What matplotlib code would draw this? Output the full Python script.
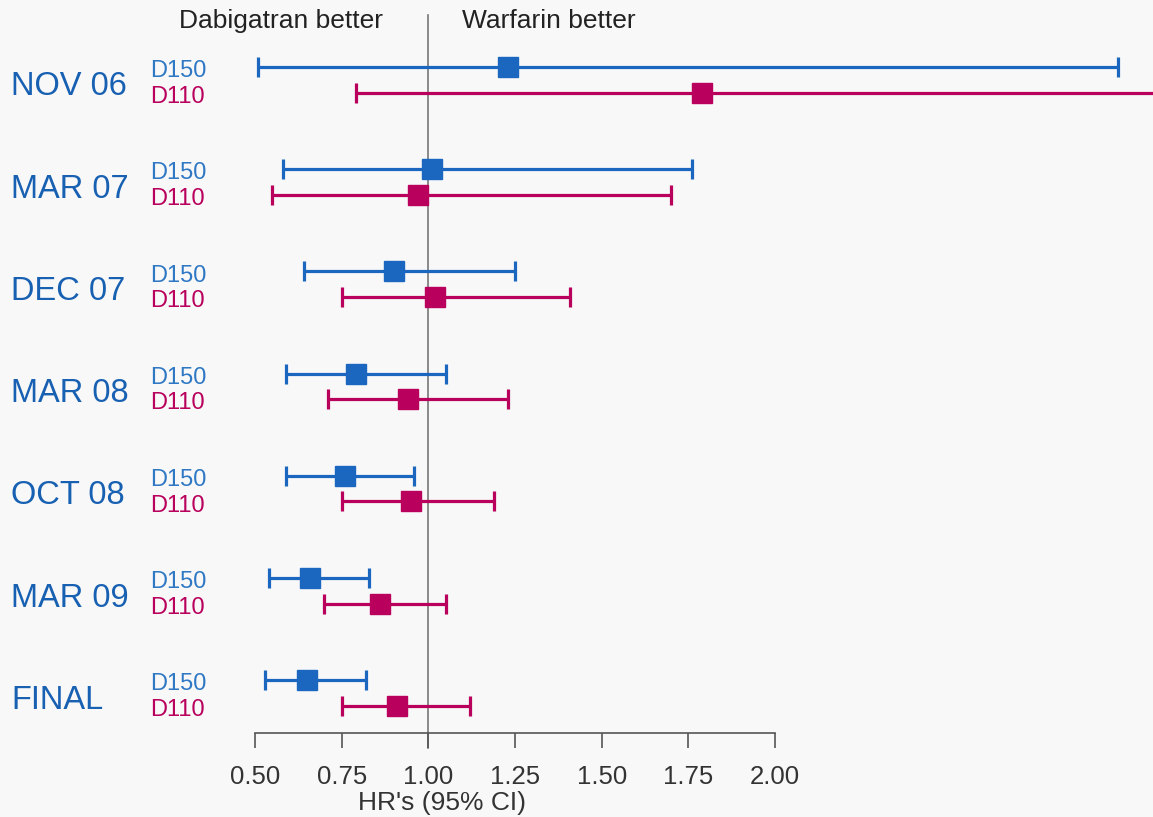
import matplotlib.pyplot as plt

plt.rcParams['font.family'] = ['Liberation Sans', 'DejaVu Sans']

# data
groups = ["NOV 06", "MAR 07", "DEC 07", "MAR 08", "OCT 08", "MAR 09", "FINAL"]
d150_hr = [1.23, 1.01, 0.90, 0.79, 0.76, 0.66, 0.65]
d150_lo = [0.51, 0.58, 0.64, 0.59, 0.59, 0.54, 0.53]
d150_hi = [2.99, 1.76, 1.25, 1.05, 0.96, 0.83, 0.82]
d110_hr = [1.79, 0.97, 1.02, 0.94, 0.95, 0.86, 0.91]
d110_lo = [0.79, 0.55, 0.75, 0.71, 0.75, 0.70, 0.75]
d110_hi = [3.30, 1.70, 1.41, 1.23, 1.19, 1.05, 1.12]
ticks = [0.50, 0.75, 1.00, 1.25, 1.50, 1.75, 2.00]

blue = '#1b67c0'
red = '#b8005c'
label_blue = '#1760b2'

W, H = 1153, 817
fig = plt.figure(figsize=(W / 100, H / 100), dpi=100)
fig.patch.set_facecolor('#f8f8f8')

# axes spans the 0.50-2.00 scale horizontally; marks beyond are unclipped
ax = fig.add_axes([255 / W, (H - 733) / H, (775 - 255) / W, 733 / H])
ax.set_facecolor('none')
ax.set_xlim(0.5, 2.0)
ax.set_ylim(6.39, -0.78)

for side in ['top', 'right', 'left']:
    ax.spines[side].set_visible(False)
ax.spines['bottom'].set_color('#555555')
ax.spines['bottom'].set_linewidth(1.2)
ax.set_yticks([])
ax.set_xticks(ticks)
ax.set_xticklabels([f"{t:.2f}" for t in ticks], fontsize=18.5, color='#333333')
ax.tick_params(axis='x', direction='out', length=11, width=1.2, color='#555555', pad=12)

px = 1.5 / 520  # data units per pixel along x
fig.text(442 / W, 1 - 803 / H, "HR's (95% CI)", fontsize=19, color='#333333', ha='center', va='center')

# reference line at HR = 1
ax.plot([1.0, 1.0], [-0.63, 6.39 + 0.147], color='#777777', lw=1.2, clip_on=False, zorder=1)

off = 0.125
for i in range(len(groups)):
    ax.errorbar(d150_hr[i], i - off, xerr=[[d150_hr[i] - d150_lo[i]], [d150_hi[i] - d150_hr[i]]],
                fmt='s', color=blue, ms=14, lw=2.3, capsize=7.5, capthick=2.3, clip_on=False, zorder=3)
    ax.errorbar(d110_hr[i], i + off, xerr=[[d110_hr[i] - d110_lo[i]], [d110_hi[i] - d110_hr[i]]],
                fmt='s', color=red, ms=14, lw=2.3, capsize=7.5, capthick=2.3, clip_on=False, zorder=3)
    ax.text(0.5 - 244 * px, i + 0.07, groups[i], fontsize=23.5,
            color=label_blue, ha='left', va='center', clip_on=False)
    ax.text(0.5 - 105 * px, i - off + 0.04, "D150", fontsize=17, color='#2f78c4',
            ha='left', va='center', clip_on=False)
    ax.text(0.5 - 105 * px, i + off + 0.04, "D110", fontsize=17, color=red,
            ha='left', va='center', clip_on=False)

fig.text(383 / W, 1 - 21 / H, "Dabigatran better", fontsize=19, color='#222222', ha='right', va='center')
fig.text(462 / W, 1 - 21 / H, "Warfarin better", fontsize=19, color='#222222', ha='left', va='center')

fig.savefig('out.png', dpi=100, facecolor=fig.get_facecolor())
